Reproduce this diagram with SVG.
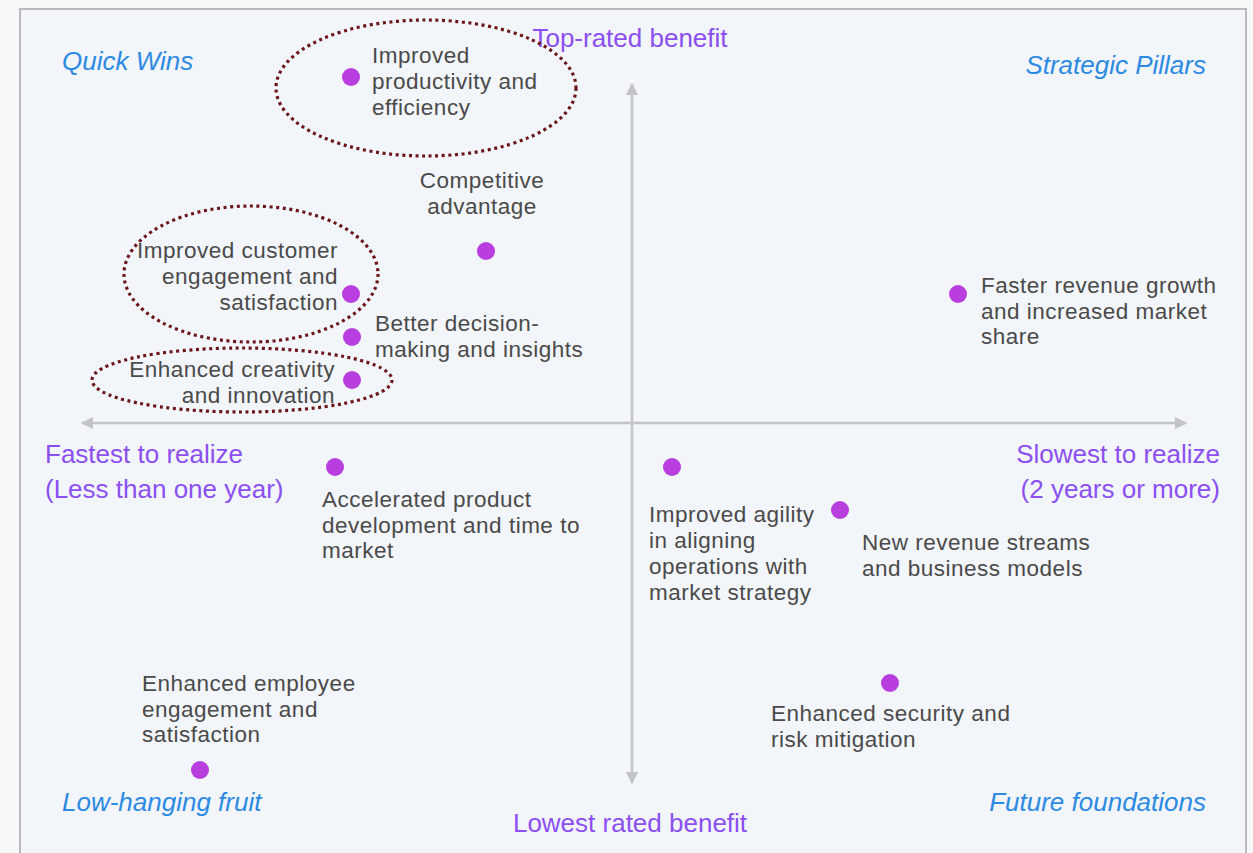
<svg xmlns="http://www.w3.org/2000/svg" width="1253" height="853" viewBox="0 0 1253 853">
<defs>
<style>
.t{font-family:"Liberation Sans",Arial,sans-serif;font-size:22.5px;fill:#4a4a4a;letter-spacing:0.5px}
.ax{font-family:"Liberation Sans",Arial,sans-serif;font-size:26px;fill:#8b4ff2}
.q{font-family:"Liberation Sans",Arial,sans-serif;font-size:26px;font-style:italic;fill:#2c8ae3}
.dot{fill:#b93ee0}
.ring{fill:none;stroke:#6b1519;stroke-width:3.2;stroke-dasharray:3 3.6}
.axis{stroke:#c4c4c4;stroke-width:2.5;fill:none}
.end{text-anchor:end}
.mid{text-anchor:middle}
</style>
<marker id="ah" viewBox="0 0 10 10" refX="9" refY="5" markerWidth="5" markerHeight="5" orient="auto" markerUnits="strokeWidth">
<path d="M0,0 L10,5 L0,10 z" fill="#c4c4c4"/>
</marker>
</defs>
<rect x="0" y="0" width="1253" height="853" fill="#f7f8fa"/>
<rect x="20" y="9" width="1226" height="860" fill="#f2f5f9" stroke="#b7b9bb" stroke-width="2"/>
<g id="connectors">
<line class="axis" x1="632" y1="423" x2="632" y2="84" marker-end="url(#ah)"/>
<line class="axis" x1="632" y1="423" x2="632" y2="783" marker-end="url(#ah)"/>
<line class="axis" x1="632" y1="423" x2="82" y2="423" marker-end="url(#ah)"/>
<line class="axis" x1="632" y1="423" x2="1186" y2="423" marker-end="url(#ah)"/>
</g>
<g id="axis-labels">
<text class="ax mid" x="630" y="47">Top-rated benefit</text>
<text class="ax mid" x="630" y="832">Lowest rated benefit</text>
<text class="ax" x="45" y="463">Fastest to realize</text>
<text class="ax" x="45" y="498">(Less than one year)</text>
<text class="ax end" x="1220" y="463">Slowest to realize</text>
<text class="ax end" x="1220" y="498">(2 years or more)</text>
</g>
<g id="quadrant-labels">
<text class="q" x="62" y="70">Quick Wins</text>
<text class="q end" x="1206" y="74">Strategic Pillars</text>
<text class="q" x="62" y="811">Low-hanging fruit</text>
<text class="q end" x="1206" y="811">Future foundations</text>
</g>
<g id="highlights">
<ellipse class="ring" cx="426" cy="88" rx="150" ry="68"/>
<ellipse class="ring" cx="251" cy="274" rx="127" ry="68"/>
<ellipse class="ring" cx="242" cy="380" rx="150" ry="32"/>
</g>
<g id="n-productivity">
<circle class="dot" cx="351" cy="77" r="9"/>
<text class="t" x="372" y="63">Improved</text>
<text class="t" x="372" y="89">productivity and</text>
<text class="t" x="372" y="115">efficiency</text>
</g>
<g id="n-competitive">
<circle class="dot" cx="486" cy="251" r="9"/>
<text class="t mid" x="482" y="188">Competitive</text>
<text class="t mid" x="482" y="214">advantage</text>
</g>
<g id="n-customer">
<circle class="dot" cx="351" cy="294" r="9"/>
<text class="t end" x="338" y="258">Improved customer</text>
<text class="t end" x="338" y="284">engagement and</text>
<text class="t end" x="338" y="310">satisfaction</text>
</g>
<g id="n-decision">
<circle class="dot" cx="352" cy="337" r="9"/>
<text class="t" x="375" y="331">Better decision-</text>
<text class="t" x="375" y="357">making and insights</text>
</g>
<g id="n-creativity">
<circle class="dot" cx="352" cy="380" r="9"/>
<text class="t end" x="335" y="377">Enhanced creativity</text>
<text class="t end" x="335" y="403">and innovation</text>
</g>
<g id="n-revenue-growth">
<circle class="dot" cx="958" cy="294" r="9"/>
<text class="t" x="981" y="293">Faster revenue growth</text>
<text class="t" x="981" y="319">and increased market</text>
<text class="t" x="981" y="344">share</text>
</g>
<g id="n-accelerated">
<circle class="dot" cx="335" cy="467" r="9"/>
<text class="t" x="322" y="507">Accelerated product</text>
<text class="t" x="322" y="533">development and time to</text>
<text class="t" x="322" y="558">market</text>
</g>
<g id="n-agility">
<circle class="dot" cx="672" cy="467" r="9"/>
<text class="t" x="649" y="522">Improved agility</text>
<text class="t" x="649" y="548">in aligning</text>
<text class="t" x="649" y="574">operations with</text>
<text class="t" x="649" y="600">market strategy</text>
</g>
<g id="n-new-revenue">
<circle class="dot" cx="840" cy="510" r="9"/>
<text class="t" x="862" y="550">New revenue streams</text>
<text class="t" x="862" y="576">and business models</text>
</g>
<g id="n-security">
<circle class="dot" cx="890" cy="683" r="9"/>
<text class="t" x="771" y="721">Enhanced security and</text>
<text class="t" x="771" y="747">risk mitigation</text>
</g>
<g id="n-employee">
<circle class="dot" cx="200" cy="770" r="9"/>
<text class="t" x="142" y="691">Enhanced employee</text>
<text class="t" x="142" y="717">engagement and</text>
<text class="t" x="142" y="742">satisfaction</text>
</g>
</svg>
